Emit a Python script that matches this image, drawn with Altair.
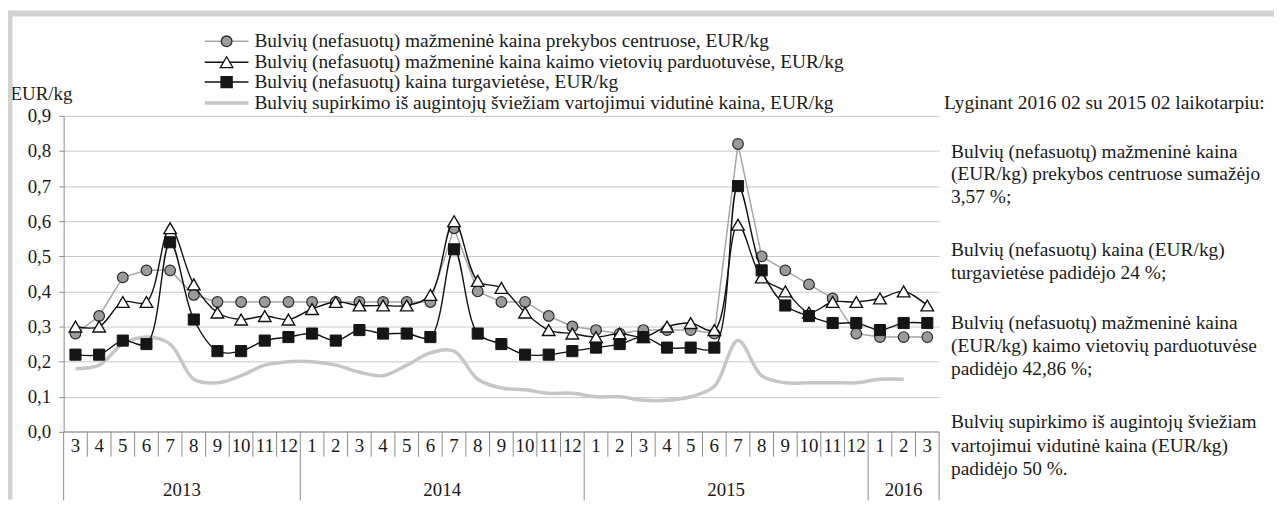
import altair as alt
import pandas as pd

# ---------------- data ----------------
months = ["3", "4", "5", "6", "7", "8", "9", "10", "11", "12",
          "1", "2", "3", "4", "5", "6", "7", "8", "9", "10", "11", "12",
          "1", "2", "3", "4", "5", "6", "7", "8", "9", "10", "11", "12",
          "1", "2", "3"]
years = ["2013", "2014", "2015", "2016"]
year_lengths = [10, 12, 12, 3]

centrai = [0.28, 0.33, 0.44, 0.46, 0.46, 0.39, 0.37, 0.37, 0.37, 0.37,
           0.37, 0.37, 0.37, 0.37, 0.37, 0.37, 0.58, 0.40, 0.37, 0.37, 0.33, 0.30,
           0.29, 0.28, 0.29, 0.29, 0.29, 0.28, 0.82, 0.50, 0.46, 0.42, 0.38, 0.28,
           0.27, 0.27, 0.27]
kaimas = [0.30, 0.30, 0.37, 0.37, 0.58, 0.42, 0.34, 0.32, 0.33, 0.32,
          0.35, 0.37, 0.36, 0.36, 0.36, 0.39, 0.60, 0.43, 0.41, 0.34, 0.29, 0.28,
          0.27, 0.28, 0.27, 0.30, 0.31, 0.29, 0.59, 0.44, 0.40, 0.34, 0.37, 0.37,
          0.38, 0.40, 0.36]
turgus = [0.22, 0.22, 0.26, 0.25, 0.54, 0.32, 0.23, 0.23, 0.26, 0.27,
          0.28, 0.26, 0.29, 0.28, 0.28, 0.27, 0.52, 0.28, 0.25, 0.22, 0.22, 0.23,
          0.24, 0.25, 0.27, 0.24, 0.24, 0.24, 0.70, 0.46, 0.36, 0.33, 0.31, 0.31,
          0.29, 0.31, 0.31]
supirkimas = [0.18, 0.19, 0.25, 0.27, 0.25, 0.15, 0.14, 0.16, 0.19, 0.20,
              0.20, 0.19, 0.17, 0.16, 0.19, 0.225, 0.23, 0.15, 0.125, 0.12, 0.11, 0.11,
              0.10, 0.10, 0.09, 0.09, 0.10, 0.13, 0.26, 0.16, 0.14, 0.14, 0.14, 0.14,
              0.15, 0.15, None]

series_names = [
    "Bulvių (nefasuotų) mažmeninė kaina prekybos centruose, EUR/kg",
    "Bulvių (nefasuotų) mažmeninė kaina kaimo vietovių parduotuvėse, EUR/kg",
    "Bulvių (nefasuotų) kaina turgavietėse, EUR/kg",
    "Bulvių supirkimo iš augintojų šviežiam vartojimui vidutinė kaina, EUR/kg",
]
y_ticks = [0.0, 0.1, 0.2, 0.3, 0.4, 0.5, 0.6, 0.7, 0.8, 0.9]
note_lines = [
    "Lyginant 2016 02 su 2015 02 laikotarpiu:",
    "Bulvių (nefasuotų) mažmeninė kaina",
    "(EUR/kg) prekybos centruose  sumažėjo",
    "3,57 %;",
    "Bulvių (nefasuotų) kaina (EUR/kg)",
    "turgavietėse padidėjo 24 %;",
    "Bulvių (nefasuotų) mažmeninė kaina",
    "(EUR/kg) kaimo vietovių parduotuvėse",
    "padidėjo 42,86 %;",
    "Bulvių supirkimo iš augintojų šviežiam",
    "vartojimui vidutinė kaina (EUR/kg)",
    "padidėjo 50 %.",
]

# ---------------- layout ----------------
W, H = 881, 318
PAD = {"left": 56, "top": 107, "right": 337, "bottom": 68}
FONT = "Liberation Serif, 'Times New Roman', Times, 'DejaVu Serif', serif"
FS = 19.5
FS_AX = 19
TXT = "#1a1a1a"
AX = "#8c8c8c"
GRID = "#c9c9c9"
note_y = [102, 151, 174, 197, 250, 273, 323, 347, 370, 423, 447, 470]
note_x = [950] + [957] * 11
legend_y = [40, 61, 81, 102]

n = len(months)
df = pd.DataFrame({
    "pos": [i + 0.5 for i in range(n)],
    "month": months,
    "centrai": centrai,
    "kaimas": kaimas,
    "turgus": turgus,
    "supirkimas": supirkimas,
})

bounds = [0]
for L in year_lengths:
    bounds.append(bounds[-1] + L)
minor = [b for b in range(1, n) if b not in bounds]
year_df = pd.DataFrame({
    "pos": [(bounds[i] + bounds[i + 1]) / 2 for i in range(len(years))],
    "year": years,
})

xs = alt.Scale(domain=[0, n], nice=False, zero=False)
ys = alt.Scale(domain=[0, 0.9], nice=False, zero=True)
X = alt.X("pos:Q", scale=xs, axis=None)

yaxis = alt.Axis(
    values=y_ticks,
    labelExpr="replace(format(datum.value, '.1f'), '.', ',')",
    labelOverlap=False,
    grid=True, gridColor=GRID, gridWidth=1,
    domainColor=AX, tickColor=AX, tickSize=5,
    labelFont=FONT, labelFontSize=FS_AX, labelColor=TXT, labelPadding=8,
    title="EUR/kg", titleAngle=0, titleAlign="left", titleBaseline="middle",
    titleX=-54, titleY=-22, titleFont=FONT, titleFontSize=FS_AX,
    titleFontWeight="normal", titleColor=TXT,
)


def Y(field):
    return alt.Y(f"{field}:Q", scale=ys, axis=yaxis)


base = alt.Chart(df)

l_sup = base.mark_line(color="#c6c6c6", strokeWidth=3.5, interpolate="catmull-rom").encode(
    X, Y("supirkimas"))

l_cen = base.mark_line(color="#a6a6a6", strokeWidth=1.5).encode(X, Y("centrai"))
p_cen = base.mark_point(shape="circle", filled=True, fill="#9b9b9b", stroke="#2a2a2a",
                        strokeWidth=1.2, size=115, opacity=1).encode(X, Y("centrai"))

l_kai = base.mark_line(color="#111111", strokeWidth=1.4, interpolate="catmull-rom").encode(
    X, Y("kaimas"))
p_kai = base.mark_point(shape="triangle-up", filled=True, fill="white", stroke="#111111",
                        strokeWidth=1.4, size=160, opacity=1).encode(X, Y("kaimas"))

l_tur = base.mark_line(color="#111111", strokeWidth=1.4, interpolate="catmull-rom").encode(
    X, Y("turgus"))
p_tur = base.mark_point(shape="square", filled=True, fill="#151515", stroke="#151515",
                        strokeWidth=1, size=125, opacity=1).encode(X, Y("turgus"))

# x axis line and separators
x_line = alt.Chart(pd.DataFrame({"a": [0]})).mark_rule(color=AX, strokeWidth=1).encode(
    x=alt.value(0), x2=alt.value(W), y=alt.value(H))
minor_rules = alt.Chart(pd.DataFrame({"b": minor})).mark_rule(color=AX, strokeWidth=1).encode(
    x=alt.X("b:Q", scale=xs, axis=None), y=alt.value(H), y2=alt.value(H + 25))
year_rules = alt.Chart(pd.DataFrame({"b": bounds})).mark_rule(color=AX, strokeWidth=1).encode(
    x=alt.X("b:Q", scale=xs, axis=None), y=alt.value(H), y2=alt.value(H + 69))
month_text = base.mark_text(font=FONT, fontSize=FS_AX, color=TXT, baseline="middle").encode(
    X, y=alt.value(H + 14), text="month:N")
year_text = alt.Chart(year_df).mark_text(font=FONT, fontSize=FS_AX, color=TXT, baseline="middle").encode(
    X, y=alt.value(H + 59), text="year:N")

# frame
frame_top = alt.Chart(pd.DataFrame({"a": [0]})).mark_rule(color="#d2d2d2", strokeWidth=6).encode(
    x=alt.value(-PAD["left"]), x2=alt.value(W + PAD["right"]), y=alt.value(-103))
frame_left = alt.Chart(pd.DataFrame({"a": [0]})).mark_rule(color="#d2d2d2", strokeWidth=5).encode(
    x=alt.value(-54), y=alt.value(-106), y2=alt.value(H + PAD["bottom"]))

# legend (drawn manually)
oy = PAD["top"] + 8
lx0, lx1, lmk, ltx = 206 - 64, 250 - 64, 228 - 64, 256 - 64
leg_layers = []
styles = [
    dict(line="#a6a6a6", lw=1.5, shape="circle", fill="#9b9b9b", stroke="#2a2a2a", size=115),
    dict(line="#111111", lw=1.5, shape="triangle-up", fill="white", stroke="#111111", size=160),
    dict(line="#111111", lw=1.5, shape="square", fill="#151515", stroke="#151515", size=125),
    dict(line="#c6c6c6", lw=3.5, shape=None),
]
for name, yy, st in zip(series_names, legend_y, styles):
    ry = yy - oy
    ld = alt.Chart(pd.DataFrame({"name": [name]}))
    leg_layers.append(ld.mark_rule(color=st["line"], strokeWidth=st["lw"]).encode(
        x=alt.value(lx0), x2=alt.value(lx1), y=alt.value(ry)))
    if st["shape"]:
        leg_layers.append(ld.mark_point(shape=st["shape"], filled=True, fill=st["fill"],
                                        stroke=st["stroke"], strokeWidth=1.3, size=st["size"],
                                        opacity=1).encode(x=alt.value(lmk), y=alt.value(ry)))
    leg_layers.append(ld.mark_text(font=FONT, fontSize=FS, color=TXT, align="left",
                                   baseline="middle").encode(
        x=alt.value(ltx), y=alt.value(ry), text="name:N"))

# right-hand notes
note_layers = []
for line, xx, yy in zip(note_lines, note_x, note_y):
    note_layers.append(
        alt.Chart(pd.DataFrame({"t": [line]})).mark_text(
            font=FONT, fontSize=FS, color=TXT, align="left", baseline="middle").encode(
            x=alt.value(xx - 64), y=alt.value(yy - oy), text="t:N"))

chart = alt.layer(
    l_sup, l_cen, p_cen, l_kai, p_kai, l_tur, p_tur,
    x_line, minor_rules, year_rules, month_text, year_text,
    frame_top, frame_left, *leg_layers, *note_layers,
).properties(
    width=W, height=H, padding=PAD,
    autosize=alt.AutoSizeParams(type="none"),
    background="white",
).configure_view(stroke=None)

chart.save("out.html", embed_options={"renderer": "svg", "actions": False})
